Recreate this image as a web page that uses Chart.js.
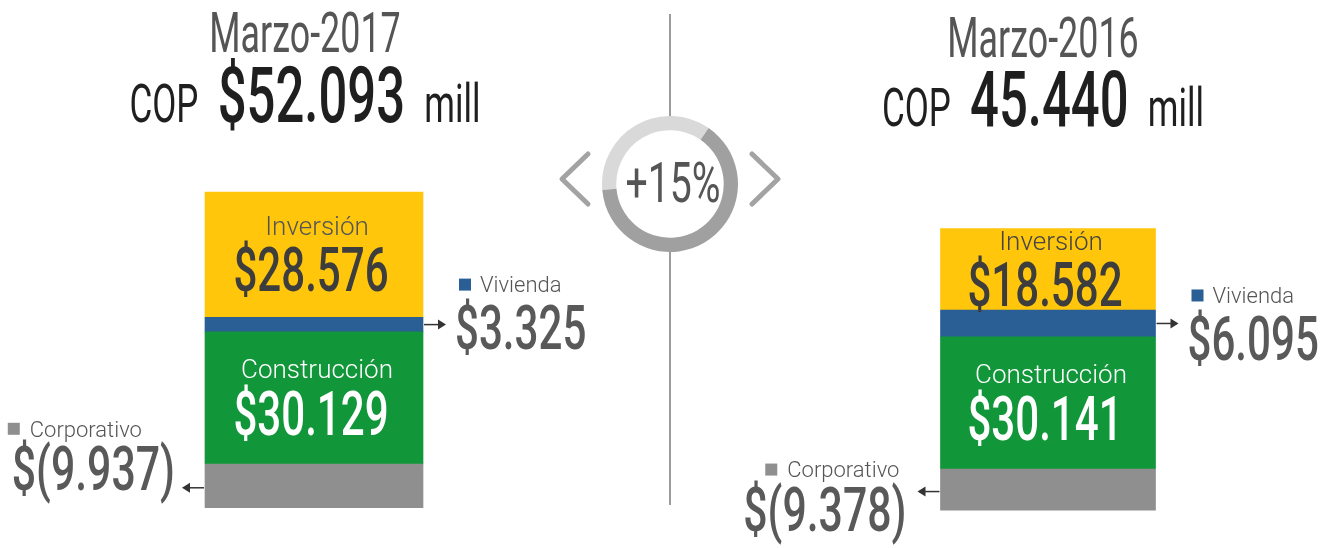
<!DOCTYPE html>
<html lang="es">
<head>
<meta charset="utf-8">
<title>Marzo-2017 vs Marzo-2016</title>
<script src="https://cdn.jsdelivr.net/npm/chart.js@4.4.0/dist/chart.umd.min.js"></script>
<style>
html, body { margin: 0; padding: 0; background: #fff; }
body { width: 1336px; height: 548px; position: relative; overflow: hidden; font-family: Roboto, "Liberation Sans", sans-serif; }
canvas, svg { position: absolute; }
.titulo { position: absolute; width: 800px; text-align: center; white-space: nowrap; transform: scaleX(0.64); transform-origin: 50% 0; color: #555; font-size: 56px; line-height: 56px; }
.total { position: absolute; width: 800px; height: 80px; text-align: center; white-space: nowrap; transform: scaleX(0.66); transform-origin: 50% 0; color: #1f1f1f; font-size: 77px; line-height: 80px; }
.total .chico { font-size: 53px; }
.total .grande { margin: 0 10px; font-weight: 500; }
.variacion { position: absolute; width: 400px; text-align: center; transform: scaleX(0.7); transform-origin: 50% 0; color: #555; font-size: 56px; line-height: 56px; }
</style>
</head>
<body>

<svg width="1336" height="548">
  <line x1="670" y1="14" x2="670" y2="116" stroke="#9c9c9c" stroke-width="2"/>
  <line x1="670" y1="252" x2="670" y2="505" stroke="#9c9c9c" stroke-width="2"/>
  <polyline points="588,154 562,179 588,204" fill="none" stroke="#a3a3a3" stroke-width="5" stroke-linecap="round" stroke-linejoin="round"/>
  <polyline points="752,154 778,179 752,204" fill="none" stroke="#a3a3a3" stroke-width="5" stroke-linecap="round" stroke-linejoin="round"/>
</svg>

<canvas id="barras2017" width="628" height="548" style="left:0;top:0"></canvas>
<canvas id="barras2016" width="616" height="548" style="left:720px;top:0"></canvas>
<canvas id="anillo" width="136" height="136" style="left:602px;top:116px"></canvas>

<div class="titulo" id="titulo2017" style="left:-95px;top:5px"></div>
<div class="total" id="total2017" style="left:-95px;top:56px"></div>
<div class="titulo" id="titulo2016" style="left:643px;top:10px"></div>
<div class="total" id="total2016" style="left:643px;top:60px"></div>
<div class="variacion" id="variacion" style="left:473px;top:155px"></div>

<script>
// datos (millones de COP)
const categorias = ["Corporativo", "Construcción", "Vivienda", "Inversión"];
const periodos = ["Marzo-2017", "Marzo-2016"];
const valores2017 = [-9937, 30129, 3325, 28576];
const valores2016 = [-9378, 30141, 6095, 18582];
const prefijosTotal = ["$", ""];
const colores = ["#8f8f8f", "#12963a", "#2a5f96", "#ffc60b"];
const arcoAnillo = [36, 64]; // solo decorativo

function miles(n) {
    return String(Math.abs(n)).replace(/\B(?=(\d{3})+(?!\d))/g, ".");
}
function formato(v) {
    return v < 0 ? "$(" + miles(v) + ")" : "$" + miles(v);
}
const suma = arr => arr.reduce((a, b) => a + b, 0);

const totales = [suma(valores2017), suma(valores2016)];

//textos de cabecera
document.getElementById("titulo2017").textContent = periodos[0];
document.getElementById("titulo2016").textContent = periodos[1];
["total2017", "total2016"].forEach((id, i) => {
    document.getElementById(id).innerHTML =
        '<span class="chico">COP</span> <span class="grande">' + prefijosTotal[i] + miles(totales[i]) +
        '</span> <span class="chico">mill</span>';
});
document.getElementById("variacion").textContent = "+" + Math.round((totales[0] / totales[1] - 1) * 100) + "%";

const FUENTE = 'Roboto, "Liberation Sans", sans-serif';
const COND = 0.69;

function texto(ctx, str, x, yCentro, size, color, align, cond, peso) {
    ctx.save();
    ctx.font = (peso || 400) + " " + size + "px " + FUENTE;
    ctx.fillStyle = color;
    ctx.textAlign = align;
    ctx.textBaseline = "alphabetic";
    ctx.translate(x, yCentro + size * 0.355);
    ctx.scale(cond ? COND : 1, 1);
    ctx.fillText(str, 0, 0);
    ctx.restore();
}

function anchoCond(ctx, str, size, peso) {
    ctx.save();
    ctx.font = peso + " " + size + "px " + FUENTE;
    const w = ctx.measureText(str).width * COND;
    ctx.restore();
    return w;
}

function flecha(ctx, x1, x2, y) {
    const dir = Math.sign(x2 - x1);
    ctx.save();
    ctx.strokeStyle = "#333";
    ctx.fillStyle = "#333";
    ctx.lineWidth = 1.5;
    ctx.beginPath();
    ctx.moveTo(x1, y);
    ctx.lineTo(x2 - dir * 6, y);
    ctx.stroke();
    ctx.beginPath();
    ctx.moveTo(x2, y);
    ctx.lineTo(x2 - dir * 8, y - 5);
    ctx.lineTo(x2 - dir * 8, y + 5);
    ctx.closePath();
    ctx.fill();
    ctx.restore();
}

// dibuja las etiquetas de cada segmento a partir de las barras
const etiquetas = {
    id: "etiquetas",
    afterDatasetsDraw(chart, args, o) {
        const ctx = chart.ctx;
        const bar = i => chart.getDatasetMeta(i).data[0];
        const val = i => chart.data.datasets[i].data[0];
        const lim = b => [Math.min(b.y, b.base), Math.max(b.y, b.base)];

        // segmentos con texto adentro
        [[3, o.colorInv, "#3d3d3d"], [1, "#fff", "#fff"]].forEach(([i, cEt, cVal]) => {
            const b = bar(i);
            const [top, bottom] = lim(b);
            const mid = (top + bottom) / 2;
            texto(ctx, categorias[i], b.x + 3, mid - 29, 26, cEt, "center", false, 300);
            texto(ctx, formato(val(i)), b.x - 3, mid + 15, 61, cVal, "center", true, 500);
        });

        // Vivienda: a la derecha
        let b = bar(2);
        let [top, bottom] = lim(b);
        let yF = (top + bottom) / 2;
        const der = b.x + b.width / 2;
        flecha(ctx, der + 1, der + 23, yF);
        let yV = yF + o.vivDy;
        texto(ctx, formato(val(2)), der + 32, yV, 61, "#595959", "left", true, 500);
        ctx.fillStyle = colores[2];
        ctx.fillRect(der + 36, yV - 49, 12, 12);
        texto(ctx, categorias[2], der + 57, yV - 43, 22, "#555", "left", false, 300);

        // Corporativo: a la izquierda
        b = bar(0);
        [top, bottom] = lim(b);
        yF = (top + bottom) / 2 + 2;
        const izq = b.x - b.width / 2;
        flecha(ctx, izq - 1, izq - 23, yF);
        yV = yF + o.corpDy;
        const xDer = izq - o.corpGap;
        const txt = formato(val(0));
        texto(ctx, txt, xDer, yV, 62, "#595959", "right", true, 500);
        const x0 = xDer - anchoCond(ctx, txt, 62, 500) + o.corpDx;
        ctx.fillStyle = colores[0];
        ctx.fillRect(x0, yV - 45, 12, 12);
        texto(ctx, categorias[0], x0 + 22, yV - 39, 22, "#555", "left", false, 300);
    }
};

function crearBarras(id, periodo, valores, grosor, yMin, yMax, padIzq, offs) {
    const ctx = document.getElementById(id).getContext("2d");
    return new Chart(ctx, {
        type: "bar",
        data: {
            labels: [periodo],
            datasets: categorias.map((c, i) => ({
                label: c,
                data: [valores[i]],
                backgroundColor: colores[i],
                borderWidth: 0,
                barThickness: grosor
            }))
        },
        options: {
            responsive: false,
            animation: false,
            devicePixelRatio: 1,
            events: [],
            layout: { padding: { left: padIzq, right: 0, top: 0, bottom: 0 } },
            scales: {
                x: { stacked: true, display: false },
                y: { stacked: true, display: false, min: yMin, max: yMax }
            },
            plugins: {
                legend: { display: false },
                tooltip: { enabled: false },
                etiquetas: offs
            }
        },
        plugins: [etiquetas]
    });
}

crearBarras("barras2017", periodos[0], valores2017, 218, -19156, 105818, 0,
    { vivDy: 3, corpDy: -20, corpDx: -4, corpGap: 30, colorInv: "#555" });
crearBarras("barras2016", periodos[1], valores2016, 215, -18016, 106958, 40,
    { vivDy: 15, corpDy: 17, corpDx: 22, corpGap: 34, colorInv: "#444" });

new Chart(document.getElementById("anillo").getContext("2d"), {
    type: "doughnut",
    data: {
        labels: ["a", "b"],
        datasets: [{ data: arcoAnillo, backgroundColor: ["#d9d9d9", "#a0a0a0"], borderWidth: 0 }]
    },
    options: {
        responsive: false,
        animation: false,
        devicePixelRatio: 1,
        events: [],
        cutout: "79%",
        rotation: 265,
        plugins: { legend: { display: false }, tooltip: { enabled: false } }
    }
});
</script>
</body>
</html>
